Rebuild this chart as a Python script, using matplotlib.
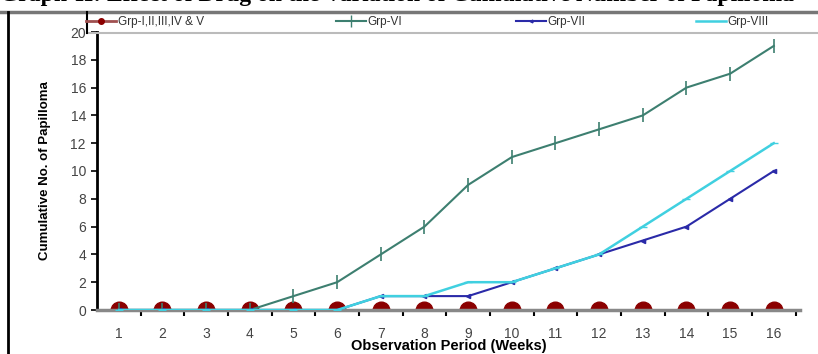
import matplotlib.pyplot as plt
import numpy as np
from matplotlib.lines import Line2D

weeks = list(range(1, 17))
grp_1_5 = [0] * 16
grp_6 = [0, 0, 0, 0, 1, 2, 4, 6, 9, 11, 12, 13, 14, 16, 17, 19]
grp_7 = [0, 0, 0, 0, 0, 0, 1, 1, 1, 2, 3, 4, 5, 6, 8, 10]
grp_8 = [0, 0, 0, 0, 0, 0, 1, 1, 2, 2, 3, 4, 6, 8, 10, 12]
labels = ['Grp-I,II,III,IV & V', 'Grp-VI', 'Grp-VII', 'Grp-VIII']

plt.rcParams['font.family'] = ['Liberation Sans Narrow', 'Liberation Sans', 'DejaVu Sans']

fig = plt.figure(figsize=(8.18, 3.54), dpi=100)
ax = fig.add_axes([97/818, 1-310/354, (800-97)/818, (310-32)/354])

ax.plot(weeks, grp_1_5, color='#a05050', lw=2, marker='o', ms=12,
        mfc='#8b0000', mec='#8b0000', zorder=2)
ax.plot(weeks, grp_6, color='#3d7f70', lw=1.5, marker='|', ms=10,
        mew=1.2, zorder=3)
ax.plot(weeks, grp_7, color='#2a2aa8', lw=1.5, marker='<', ms=3, zorder=4)
ax.plot(weeks, grp_8, color='#40d0e0', lw=1.8, marker='_', ms=6, zorder=5)

ax.set_xlim(0.5, 16.6)
ax.set_ylim(0, 20)
ax.set_yticks(np.arange(0, 21, 2))
ax.set_xticks(weeks)
ax.set_xticks(np.arange(1.5, 17, 1), minor=True)
ax.tick_params(axis='x', which='major', length=0, pad=12, labelsize=10, labelcolor='#444444')
ax.tick_params(axis='x', which='minor', length=4, width=1.5, direction='out', color='black')
ax.tick_params(axis='y', length=4, width=1.2, labelsize=10, labelcolor='#444444', pad=4)
ax.spines['top'].set_visible(False)
ax.spines['right'].set_visible(False)
ax.spines['left'].set_linewidth(2)
ax.spines['bottom'].set_linewidth(2.5)
ax.spines['bottom'].set_color('#888888')
ax.set_xlabel('Observation Period (Weeks)', fontsize=10.5, fontweight='bold', labelpad=-1)
ax.set_ylabel('Cumulative No. of Papilloma', fontsize=9.5, fontweight='bold', labelpad=14)

# legend strip along the top, one entry per slot
handles = [
    Line2D([], [], color='#a05050', lw=2, marker='o', ms=4, mfc='#8b0000', mec='#8b0000'),
    Line2D([], [], color='#3d7f70', lw=1.5, marker='|', ms=8),
    Line2D([], [], color='#2a2aa8', lw=1.5, marker='<', ms=2),
    Line2D([], [], color='#40d0e0', lw=1.8),
]
slots = [86, 336, 516, 696]
for h, lab, x0 in zip(handles, labels, slots):
    leg = fig.legend([h], [lab], loc='center left', bbox_to_anchor=(x0/818, 1-22.5/354),
                     frameon=False, fontsize=8.5, handlelength=2.5, handletextpad=0.2,
                     borderaxespad=0, borderpad=0, labelcolor='#333333')

# page frame of the pasted chart
fig.add_artist(Line2D([0, 1], [1-12/354, 1-12/354], color='#777777', lw=2.5))
fig.add_artist(Line2D([87/818, 1], [1-33/354, 1-33/354], color='#bbbbbb', lw=1.5))
fig.add_artist(Line2D([8/818, 8/818], [0, 1-12/354], color='black', lw=2))
fig.add_artist(Line2D([87/818, 87/818], [1-33/354, 1-12/354], color='black', lw=1.5))

# title cut off at the top edge
fig.text(0.0, 1+5/354, 'Graph-II: Effect of Drug on the Variation of Cumulative Number of Papilloma',
         family=['Liberation Serif', 'DejaVu Serif'], fontsize=17, fontweight='bold', va='center', ha='left')

fig.savefig('out.png', dpi=100)
